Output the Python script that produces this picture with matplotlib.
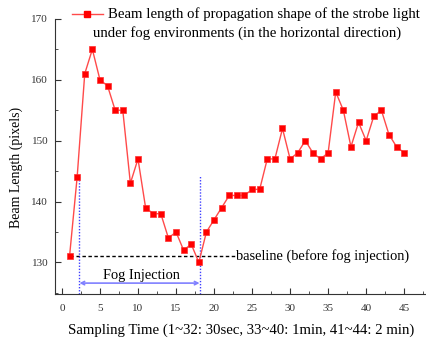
import matplotlib
matplotlib.use('Agg')
from matplotlib import pyplot as plt
from matplotlib.ticker import MultipleLocator

# Sampling index and measured beam length
sample = list(range(1, 46))
beam_length = [131, 144, 161, 165, 160, 159, 155, 155, 143, 147,
               139, 138, 138, 134, 135, 132, 133, 130, 135, 137,
               139, 141, 141, 141, 142, 142, 147, 147, 152, 147,
               148, 150, 148, 147, 148, 158, 155, 149, 153, 150,
               154, 155, 151, 149, 148]

baseline = 131
fog_start, fog_end = 2.3, 18.1

legend_lines = ['Beam length of propagation shape of the strobe light',
                'under fog environments (in the horizontal direction)']


def build_graphics(output_png):
    plt.rcParams['font.family'] = 'Liberation Serif'
    fig = plt.figure(figsize=(4.27, 3.38), dpi=100)
    ax = fig.add_axes([0.129, 0.13, 0.871, 0.814])

    ax.plot(sample, beam_length, color='#ff4a4a', lw=1.0, marker='s',
            markersize=5, markerfacecolor='red', markeredgecolor='#ff3030',
            markeredgewidth=0.5, zorder=3)

    # baseline
    ax.plot([1, 22.7], [baseline, baseline], color='black', ls=(0, (2.5, 1.8)), lw=1.0)
    ax.text(22.9, baseline, 'baseline (before fog injection)', fontsize=10.4,
            va='center', ha='left')

    # fog injection markers
    for xv in (fog_start, fog_end):
        ax.plot([xv, xv], [124.8, 144.3], color='#4040ff', ls=(0, (1, 1.2)), lw=1.0)
    ax.annotate('', xy=(fog_start, 126.6), xytext=(fog_end, 126.6),
                arrowprops=dict(arrowstyle='<->', color='#8080ff', lw=1.2,
                                shrinkA=0, shrinkB=0, mutation_scale=6))
    ax.text(10.4, 127.9, 'Fog Injection', fontsize=10.4, ha='center', va='center')

    # legend drawn by hand
    ax.plot([0.046, 0.129], [1.018, 1.018], transform=ax.transAxes, color='#ff4a4a',
            lw=1.0, clip_on=False)
    ax.plot([0.087], [1.018], transform=ax.transAxes, marker='s', markersize=5,
            color='red', clip_on=False)
    ax.text(0.143, 1.018, legend_lines[0], transform=ax.transAxes, fontsize=10.6,
            va='center', ha='left')
    ax.text(0.102, 0.949, legend_lines[1], transform=ax.transAxes, fontsize=10.6,
            va='center', ha='left')

    ax.set_xlim(-0.9, 48)
    ax.set_ylim(124.8, 170)
    ax.xaxis.set_major_locator(MultipleLocator(5))
    ax.xaxis.set_minor_locator(MultipleLocator(2.5))
    ax.yaxis.set_major_locator(MultipleLocator(10))
    ax.yaxis.set_minor_locator(MultipleLocator(5))
    ax.tick_params(which='both', direction='in', labelsize=8, colors='#333333')
    ax.tick_params(which='major', length=4)
    ax.tick_params(which='minor', length=2.5)
    ax.tick_params(axis='x', pad=7)
    ax.tick_params(axis='y', pad=5)
    ax.spines['top'].set_visible(False)
    ax.spines['right'].set_visible(False)
    ax.spines['left'].set_color('#333333')
    ax.spines['bottom'].set_color('#333333')

    ax.set_xlabel('Sampling Time (1~32: 30sec, 33~40: 1min, 41~44: 2 min)',
                  fontsize=10.6, labelpad=8)
    ax.set_ylabel('Beam Length (pixels)', fontsize=10)
    ax.yaxis.set_label_coords(-0.085, 0.46)

    fig.savefig(output_png, dpi=100)


def main():
    build_graphics('out.png')


if __name__ == "__main__":
    main()
